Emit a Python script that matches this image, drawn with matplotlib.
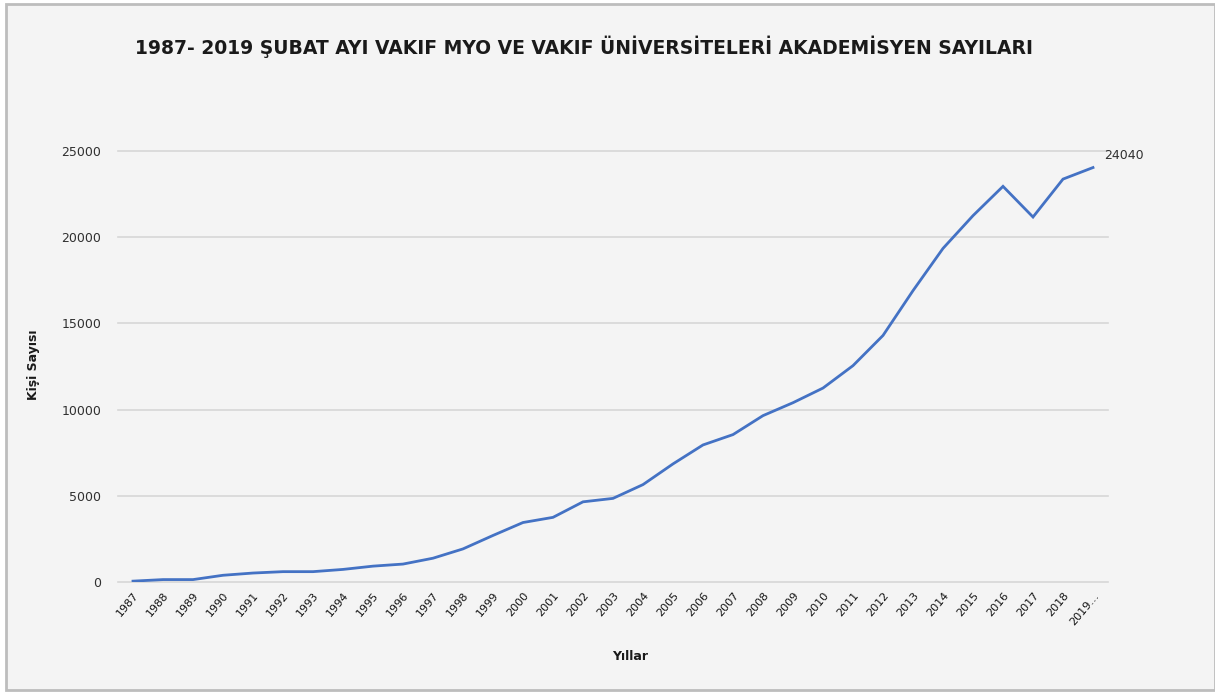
#!/usr/bin/env python3
# -*- coding: utf-8 -*-
import numpy as np
import matplotlib
matplotlib.use('Agg')
import matplotlib.pyplot as plt
from matplotlib.patches import Rectangle

#!----------------------------------------------------------------------
#!	DATA
#!----------------------------------------------------------------------
years = [str(y) for y in range(1987, 2019)] + ['2019…']
counts = [50, 140, 140, 390, 520, 600, 600, 730, 920, 1040,
          1380, 1920, 2700, 3450, 3750, 4650, 4850, 5650, 6850, 7950,
          8550, 9650, 10400, 11250, 12550, 14300, 16900, 19350, 21250, 22950,
          21170, 23370, 24040]
yticks = [0, 5000, 10000, 15000, 20000, 25000]
title = "1987- 2019 ŞUBAT AYI VAKIF MYO VE VAKIF ÜNİVERSİTELERİ AKADEMİSYEN SAYILARI"

#!----------------------------------------------------------------------
#!	PLOT
#!----------------------------------------------------------------------
W, H = 1215, 693
fig = plt.figure(figsize=(W/100, H/100), dpi=100)
fig.patch.set_facecolor('white')
fig.patches.append(Rectangle((6/W, 3/H), 1 - 6/W, 1 - 7/H, transform=fig.transFigure,
                             facecolor='#f4f4f4', edgecolor='#bdbdbd', lw=2, zorder=-10))

ax = fig.add_axes([118/W, 1 - 582/H, 990/W, 431/H])
ax.set_facecolor('none')

x = np.arange(len(years))
ax.plot(x, counts, '-', color='#4472c4', lw=2.0, solid_joinstyle='miter', zorder=3)

ax.set_xlim(-0.5, len(years) - 0.5)
ax.set_ylim(0, 25000)
ax.set_yticks(yticks)
ax.set_yticklabels([str(v) for v in yticks], fontsize=9, color='#303030')
ax.set_xticks(x)
ax.set_xticklabels(years, rotation=50, ha='right', rotation_mode='anchor',
                   fontsize=8, color='#151515')
ax.tick_params(length=0, pad=12)
ax.tick_params(axis='x', pad=6)
for v in yticks:
	ax.axhline(v, color='#d6d6d6', lw=1.2, clip_on=False, zorder=1)
for s in ax.spines.values():
	s.set_visible(False)

ax.annotate(str(counts[-1]), (x[-1], counts[-1]), xytext=(8, 4), textcoords='offset points',
            fontsize=9, color='#303030', va='bottom', ha='left', annotation_clip=False)

fig.text(584/W, 1 - 47/H, title, fontsize=13.5, fontweight='bold', ha='center', va='center',
         color='#1a1a1a')
fig.text(33/W, 1 - 365/H, "Kişi Sayısı", fontsize=9, fontweight='bold', rotation=90,
         ha='center', va='center', color='#1a1a1a')
fig.text(630/W, 1 - 657/H, "Yıllar", fontsize=9, fontweight='bold', ha='center',
         va='center', color='#1a1a1a')

plt.savefig('out.png', dpi=100, facecolor=fig.get_facecolor())
